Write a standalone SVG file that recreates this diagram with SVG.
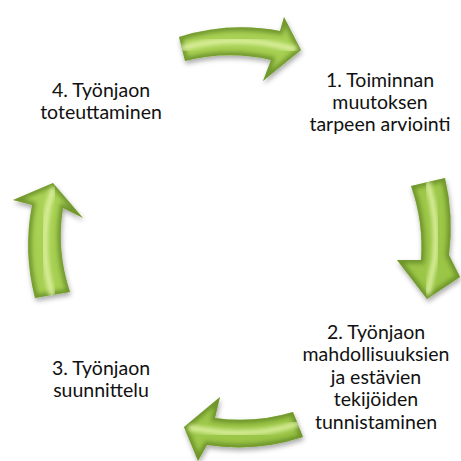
<svg xmlns="http://www.w3.org/2000/svg" xmlns:xlink="http://www.w3.org/1999/xlink" width="461" height="461" viewBox="0 0 461 461">
  <style>
    .label { font-family: Lato, "Open Sans", "Liberation Sans", sans-serif; font-size: 19.5px; fill: #111; text-anchor: middle; }
    .base { fill: url(#lime); }
    .edge { fill: none; stroke: #5d8222; stroke-width: 7; opacity: 0.72; }
    .shine { fill: none; stroke: #e2f4a8; stroke-width: 6; stroke-linecap: round; opacity: 0.85; }
  </style>
  <defs>
    <linearGradient id="lime" gradientUnits="userSpaceOnUse" x1="0" y1="0" x2="461" y2="461">
      <stop offset="0" stop-color="#b0d85c"/>
      <stop offset="1" stop-color="#94c040"/>
    </linearGradient>
    <filter id="shadow" x="-30%" y="-30%" width="160%" height="160%">
      <feDropShadow dx="1" dy="3" stdDeviation="2.5" flood-color="#000" flood-opacity="0.33"/>
    </filter>
    <filter id="soft" x="-20%" y="-20%" width="140%" height="140%">
      <feGaussianBlur stdDeviation="2.2"/>
    </filter>
    <!-- curved arrow outlines: tail, outer edge, head, inner edge -->
    <path id="arrowTop" d="M179,37 A210,210 0 0 1 280,31 L284,17 L301,50 L263,81 L271,60 A185,185 0 0 0 185,61 Z"/>
    <path id="arrowRight" d="M445,178 A214,214 0 0 1 449,255 L460,277 L427,299 L397,260 L421,260 A183,183 0 0 0 411,186 Z"/>
    <path id="arrowBottom" d="M303,437 A207,207 0 0 1 207,445 L198,461 L184,427 L220,397 L215,418 A180,180 0 0 0 293,412 Z"/>
    <path id="arrowLeft" d="M35,298 A210,210 0 0 1 32,205 L13,200 L53,183 L83,218 L63,208 A177,177 0 0 0 70,292 Z"/>
    <clipPath id="clipTop"><use xlink:href="#arrowTop"/></clipPath>
    <clipPath id="clipRight"><use xlink:href="#arrowRight"/></clipPath>
    <clipPath id="clipBottom"><use xlink:href="#arrowBottom"/></clipPath>
    <clipPath id="clipLeft"><use xlink:href="#arrowLeft"/></clipPath>
  </defs>

  <rect width="461" height="461" fill="#fff"/>

  <g id="connectors">
    <g id="arrow-1-2" filter="url(#shadow)">
      <use xlink:href="#arrowTop" class="base"/>
      <g clip-path="url(#clipTop)">
        <use xlink:href="#arrowTop" class="edge" filter="url(#soft)"/>
        <path class="shine" filter="url(#soft)" d="M183,48 A197,197 0 0 1 276,45 L294,49"/>
      </g>
    </g>
    <g id="arrow-2-3" filter="url(#shadow)">
      <use xlink:href="#arrowRight" class="base"/>
      <g clip-path="url(#clipRight)">
        <use xlink:href="#arrowRight" class="edge" filter="url(#soft)"/>
        <path class="shine" filter="url(#soft)" d="M428,184 A198,198 0 0 1 435,258 L428,292"/>
      </g>
    </g>
    <g id="arrow-3-4" filter="url(#shadow)">
      <use xlink:href="#arrowBottom" class="base"/>
      <g clip-path="url(#clipBottom)">
        <use xlink:href="#arrowBottom" class="edge" filter="url(#soft)"/>
        <path class="shine" filter="url(#soft)" d="M297,424 A193,193 0 0 1 211,431 L191,428"/>
      </g>
    </g>
    <g id="arrow-4-1" filter="url(#shadow)">
      <use xlink:href="#arrowLeft" class="base"/>
      <g clip-path="url(#clipLeft)">
        <use xlink:href="#arrowLeft" class="edge" filter="url(#soft)"/>
        <path class="shine" filter="url(#soft)" d="M52,294 A193,193 0 0 1 48,207 L53,190"/>
      </g>
    </g>
  </g>

  <g id="node-1">
    <text class="label" x="380" y="87">1. Toiminnan</text>
    <text class="label" x="380" y="109">muutoksen</text>
    <text class="label" x="380" y="131">tarpeen arviointi</text>
  </g>
  <g id="node-2">
    <text class="label" x="376" y="339">2. Työnjaon</text>
    <text class="label" x="376" y="361">mahdollisuuksien</text>
    <text class="label" x="376" y="384">ja estävien</text>
    <text class="label" x="376" y="406">tekijöiden</text>
    <text class="label" x="376" y="429">tunnistaminen</text>
  </g>
  <g id="node-3">
    <text class="label" x="101" y="375">3. Työnjaon</text>
    <text class="label" x="101" y="397">suunnittelu</text>
  </g>
  <g id="node-4">
    <text class="label" x="101" y="97">4. Työnjaon</text>
    <text class="label" x="101" y="119">toteuttaminen</text>
  </g>
</svg>
